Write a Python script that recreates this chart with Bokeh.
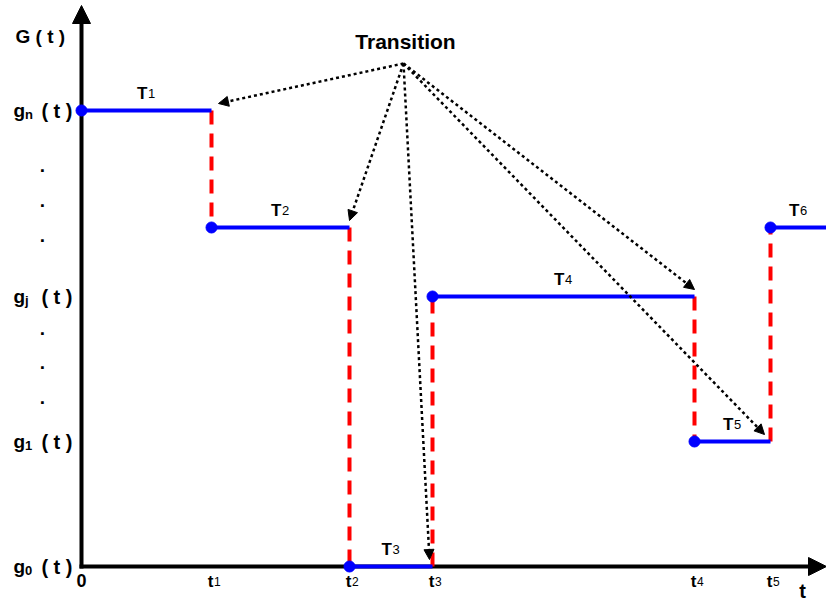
from bokeh.plotting import figure
from bokeh.models import Range1d, Arrow, NormalHead
from bokeh.core.properties import value
from bokeh.embed import file_html
from bokeh.resources import INLINE

# ---------------- data (1 unit = 100 px of the original drawing) ----------------
times = [0.0, 1.30, 2.68, 3.51, 6.13, 6.89]          # 0, t1 .. t5
t_end = 7.45                                          # right end of the last segment
seg_levels = [4.56, 3.39, 0.0, 2.70, 1.25, 3.39]      # levels of T1 .. T6
seg_names = ["1", "2", "3", "4", "5", "6"]            # T subscripts
time_subs = ["", "1", "2", "3", "4", "5"]             # t subscripts
level_values = [4.56, 2.70, 1.25, 0.0]                # g_n, g_j, g_1, g_0
level_subs = ["n", "j", "1", "0"]
transition_origin = (3.22, 5.03)

FONT = value("Liberation Sans")
PX = 0.01          # one original pixel in data units
SH = 7 * PX        # baseline correction for text placement

p = figure(width=826, height=601, output_backend="svg", toolbar_location=None,
           x_range=Range1d(-0.81, 7.45), y_range=Range1d(-0.35, 5.66),
           x_axis_type=None, y_axis_type=None, min_border=0)
p.grid.visible = False
p.outline_line_color = None
p.background_fill_color = "white"
p.border_fill_color = "white"

# ---------------- axes with arrow heads (below the glyphs) ----------------
p.add_layout(Arrow(x_start=0, y_start=-2 * PX, x_end=0, y_end=5.61,
                   line_color="black", line_width=4, level="underlay",
                   end=NormalHead(size=18, fill_color="black", line_color="black")))
p.add_layout(Arrow(x_start=-2 * PX, y_start=0, x_end=t_end, y_end=0,
                   line_color="black", line_width=4, level="underlay",
                   end=NormalHead(size=18, fill_color="black", line_color="black")))

# ---------------- red dashed transitions ----------------
p.segment(x0=times[1:], y0=seg_levels[:-1], x1=times[1:], y1=seg_levels[1:],
          line_color="#ff0000", line_width=4, line_dash="14 9")

# ---------------- blue levels ----------------
seg_ends = times[1:] + [t_end]
p.segment(x0=times, y0=seg_levels, x1=seg_ends, y1=seg_levels,
          line_color="#0000ff", line_width=4)
p.scatter(x=times, y=seg_levels, size=11, marker="circle",
          fill_color="#0000ff", line_color="#0000ff")

# ---------------- dotted transition arrows ----------------
arrow_dx = [0.07, 0.0, -0.03, 0.0, -0.06]
for i in range(1, len(times)):
    p.add_layout(Arrow(x_start=transition_origin[0], y_start=transition_origin[1],
                       x_end=times[i] + arrow_dx[i - 1], y_end=seg_levels[i - 1] + 7 * PX,
                       line_color="black", line_width=2.5, line_dash="3 3",
                       end=NormalHead(size=10, fill_color="black", line_color="black",
                                      line_width=1)))

p.text(x=[transition_origin[0] + 2 * PX], y=[5.18 + SH], text=["Transition"],
       text_font=FONT, text_font_style="bold", text_font_size="21px",
       text_align="center", text_baseline="alphabetic", text_color="black")

# ---------------- segment labels T1..T6 ----------------
mids = [(a + b) / 2 for a, b in zip(times, seg_ends)]
lab_y = [lv + 10 * PX + SH for lv in seg_levels]
p.text(x=[m + PX for m in mids], y=lab_y, text=["T"] * len(mids),
       text_font=FONT, text_font_style="bold", text_font_size="17px",
       text_align="right", text_baseline="alphabetic", text_color="black")
p.text(x=[m + 1.5 * PX for m in mids], y=lab_y, text=seg_names,
       text_font=FONT, text_font_size="13px",
       text_align="left", text_baseline="alphabetic", text_color="black")

# ---------------- time labels ----------------
p.text(x=[times[0]], y=[-0.21 + SH], text=["0"], text_font=FONT, text_font_style="bold",
       text_font_size="18px", text_align="center", text_baseline="alphabetic")
p.text(x=[t + 2 * PX for t in times[1:]], y=[-0.22 + SH] * 5, text=["t"] * 5,
       text_font=FONT, text_font_style="bold", text_font_size="17px",
       text_align="right", text_baseline="alphabetic")
p.text(x=[t + 2.5 * PX for t in times[1:]], y=[-0.22 + SH] * 5, text=time_subs[1:],
       text_font=FONT, text_font_size="12px",
       text_align="left", text_baseline="alphabetic")
p.text(x=[7.21], y=[-0.31 + SH], text=["t"], text_font=FONT, text_font_style="bold",
       text_font_size="20px", text_align="center", text_baseline="alphabetic")

# ---------------- level labels ----------------
n = len(level_values)
p.text(x=[-0.68] * n, y=[lv - 7 * PX + SH for lv in level_values], text=["g"] * n,
       text_font=FONT, text_font_style="bold", text_font_size="19px",
       text_align="left", text_baseline="alphabetic")
p.text(x=[-0.565] * n, y=[lv - 11 * PX + SH for lv in level_values], text=level_subs,
       text_font=FONT, text_font_style="bold", text_font_size="13px",
       text_align="left", text_baseline="alphabetic")
p.text(x=[-0.09] * n, y=[lv - 7 * PX + SH for lv in level_values], text=["( t )"] * n,
       text_font=FONT, text_font_style="bold", text_font_size="20px",
       text_align="right", text_baseline="alphabetic")

# axis title G(t)
p.text(x=[-0.66], y=[5.23 + SH], text=["G ( t )"], text_font=FONT, text_font_style="bold",
       text_font_size="19px", text_align="left", text_baseline="alphabetic")

# vertical ellipsis dots between labelled levels
mid_a = (level_values[0] + level_values[1]) / 2
mid_b = (level_values[1] + level_values[2]) / 2
dot_y = [mid_a + 0.33, mid_a - 0.02, mid_a - 0.37, mid_b + 0.36, mid_b + 0.02, mid_b - 0.33]
p.text(x=[-0.39] * len(dot_y), y=[d - 2 * PX + SH for d in dot_y], text=["."] * len(dot_y),
       text_font=FONT, text_font_style="bold", text_font_size="19px",
       text_align="center", text_baseline="alphabetic")

open("out.html", "w").write(file_html(p, INLINE))
